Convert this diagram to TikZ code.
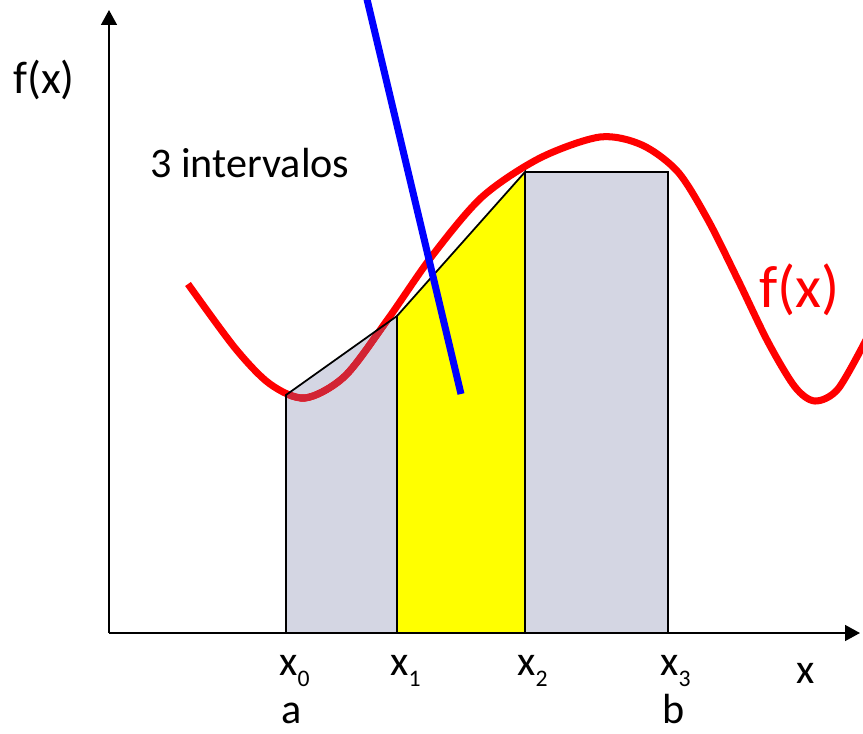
\documentclass[tikz,border=0pt]{standalone}
\usepackage{fontspec}
\setmainfont{Carlito}
\usetikzlibrary{arrows.meta}

\definecolor{stripgray}{RGB}{212,214,227}
\definecolor{curvered}{RGB}{255,0,0}
\definecolor{curvedark}{RGB}{210,36,52}
\definecolor{stripyellow}{RGB}{255,255,0}
\newcommand{\xsub}[1]{\raisebox{-6.8pt}{\fontsize{13.5}{14}\selectfont #1}}

\begin{document}
\begin{tikzpicture}[
  x=0.02cm, y=-0.02cm,
  lbl/.style={font=\fontsize{24}{28}\selectfont, inner sep=0pt, anchor=base west},
  axis/.style={draw=black, line width=1.1pt, -{Triangle[width=9pt,length=8.5pt]}},
  strip/.style={draw=black, line width=1pt},
  fcurve/.style={line width=4pt}
]
\useasboundingbox (0,0) rectangle (863,734);

% axes and strip corners
\coordinate (o)    at (109,633);
\coordinate (ytip) at (109,10);
\coordinate (xtip) at (860,633);
\coordinate (x0b) at (286,633); \coordinate (x0t) at (286,395);
\coordinate (x1b) at (397,633); \coordinate (x1t) at (397,316);
\coordinate (x2b) at (525,633); \coordinate (x2t) at (525,172);
\coordinate (x3b) at (668,633); \coordinate (x3t) at (668,172);

% strips
\fill[stripgray] (x0b) -- (x0t) -- (x1t) -- (x1b) -- cycle;
\fill[stripyellow] (x1b) -- (x1t) -- (x2t) -- (x2b) -- cycle;
\fill[stripgray] (x2b) -- (x2t) -- (x3t) -- (x3b) -- cycle;

% f(x)
\draw[curvered, fcurve] plot[smooth] coordinates {(188,284) (235,348) (270,384) (305,398) (345,376) (388,319) (432,256) (482,197) (540,158) (600,137) (642,145) (678,172) (708,220) (738,280) (768,342) (795,387) (815,401) (838,389) (866,340)};
\begin{scope}
  \clip (x0b) -- (x0t) -- (x1t) -- (x1b) -- cycle;
  \draw[curvedark, fcurve] plot[smooth] coordinates {(188,284) (235,348) (270,384) (305,398) (345,376) (388,319) (432,256) (482,197)};
\end{scope}

\draw[strip] (x0b) -- (x0t) -- (x1t) -- (x1b);
\draw[strip] (x1t) -- (x2t) -- (x2b);
\draw[strip] (x2t) -- (x3t) -- (x3b);

\draw[axis] (o) -- (ytip);
\draw[axis] (o) -- (xtip);

% blue line
\coordinate (btop) at (366,-5);
\coordinate (bend) at (461,394);
\draw[blue, line width=4pt] (btop) -- (bend);

% labels
\node[lbl, font=\fontsize{26}{30}\selectfont] (fxlbl) at (13,93) {f(x)};
\node[lbl] (nlbl) at (150,177) {3 intervalos};
\node[lbl, text=curvered, font=\fontsize{34}{40}\selectfont] (fxred) at (759,307) {f(x)};
\node[lbl] (x0lbl) at (279,675) {x\xsub{0}};
\node[lbl] (x1lbl) at (390,675) {x\xsub{1}};
\node[lbl] (x2lbl) at (517,675) {x\xsub{2}};
\node[lbl] (x3lbl) at (660,675) {x\xsub{3}};
\node[lbl] (albl) at (281,723) {a};
\node[lbl] (blbl) at (662,723) {b};
\node[lbl] (xlbl) at (796,683) {x};
\end{tikzpicture}
\end{document}
